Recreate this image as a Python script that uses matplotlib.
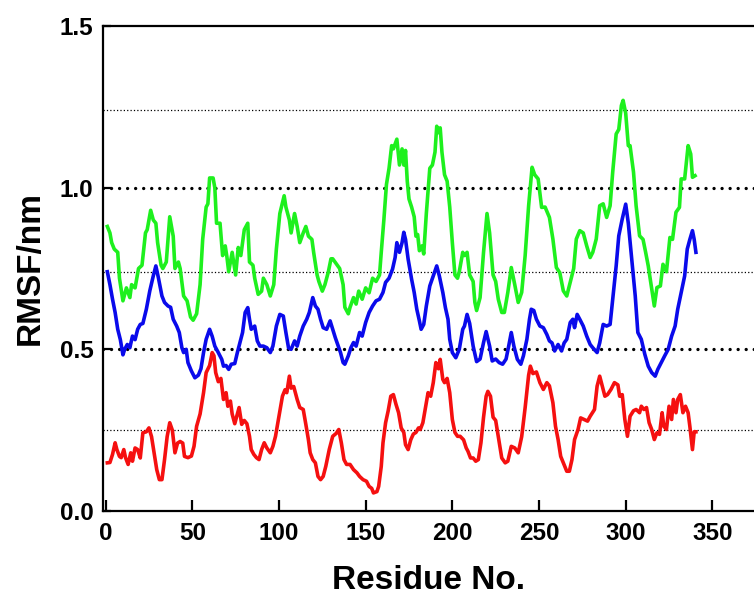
import matplotlib
matplotlib.use("Agg")
import matplotlib.pyplot as plt

# valores (resíduo, RMSF em nm)
res_verde = [1, 2.5, 3.5, 5, 7, 8, 10, 12, 14, 15, 17, 19, 21, 23, 24, 26, 27.5, 29, 30, 32,
             33, 35, 37, 39, 40, 42, 43, 45, 47, 49, 50.5, 52.5, 54.5, 56, 58, 59, 60, 62, 63, 64,
             66, 67.5, 69, 70, 71, 73, 75, 76.5, 78, 80, 82, 83, 85, 86, 88, 90, 91, 93, 95, 97,
             98.5, 100.5, 103, 104, 106, 107, 109, 110.5, 112, 114, 115.5, 117, 119, 120, 122, 123, 125, 126.5, 128.5, 130,
             131, 133, 135, 137, 138, 140, 141, 143, 144.5, 146, 148, 150, 152, 154, 156, 158, 159, 160.5, 162, 163.5,
             165, 166, 168, 169.5, 171, 172, 173, 174, 175, 176.5, 178, 179, 180, 181, 182.5, 183.5, 185, 187, 188.5, 190,
             191, 192, 193, 194, 195.5, 197, 198.5, 200, 201.5, 203, 204, 206, 207, 208.5, 210, 212, 213, 214, 216, 218,
             220, 221.5, 223.5, 225, 226.5, 228.5, 230, 232, 234, 236, 238, 240, 242, 244, 246, 247.5, 249.5, 251.5, 253.5, 256,
             258, 260, 262, 264, 266, 268, 270, 271.5, 273.5, 275.5, 277.5, 279.5, 281, 283, 285, 287, 289, 291, 292.5, 294.5,
             296, 297.5, 298.5, 300, 301.5, 302.5, 304.5, 306, 308, 310, 311.5, 313, 315, 316.5, 318, 320, 321.5, 323.5, 325.5, 327,
             329, 331, 332, 334, 336, 337.5, 338.5, 340]
rmsf_verde = [0.88, 0.86, 0.83, 0.81, 0.80, 0.72, 0.65, 0.69, 0.66, 0.70, 0.69, 0.75, 0.76, 0.86, 0.87, 0.93, 0.90, 0.89, 0.83, 0.76,
              0.75, 0.77, 0.91, 0.85, 0.75, 0.77, 0.75, 0.665, 0.65, 0.60, 0.59, 0.61, 0.70, 0.84, 0.94, 0.95, 1.03, 1.03, 1.00, 0.89,
              0.89, 0.79, 0.82, 0.785, 0.74, 0.80, 0.73, 0.815, 0.79, 0.87, 0.89, 0.77, 0.76, 0.72, 0.67, 0.68, 0.72, 0.70, 0.665, 0.70,
              0.81, 0.92, 0.975, 0.94, 0.90, 0.86, 0.92, 0.88, 0.83, 0.86, 0.88, 0.85, 0.84, 0.80, 0.73, 0.71, 0.68, 0.70, 0.74, 0.78,
              0.78, 0.765, 0.75, 0.70, 0.63, 0.61, 0.63, 0.66, 0.64, 0.68, 0.655, 0.69, 0.675, 0.72, 0.71, 0.73, 0.80, 0.90, 1.01, 1.06,
              1.13, 1.12, 1.15, 1.07, 1.12, 1.07, 1.115, 1.02, 0.965, 0.94, 0.91, 0.85, 0.855, 0.805, 0.82, 0.795, 0.92, 1.06, 1.07, 1.11,
              1.19, 1.17, 1.185, 1.11, 1.04, 1.02, 0.94, 0.83, 0.73, 0.72, 0.74, 0.80, 0.79, 0.80, 0.73, 0.71, 0.645, 0.62, 0.66, 0.80,
              0.92, 0.86, 0.73, 0.71, 0.655, 0.614, 0.614, 0.676, 0.753, 0.70, 0.645, 0.676, 0.79, 0.944, 1.063, 1.04, 1.027, 0.939, 0.94, 0.908,
              0.841, 0.753, 0.737, 0.681, 0.665, 0.707, 0.75, 0.841, 0.867, 0.86, 0.82, 0.784, 0.80, 0.841, 0.944, 0.95, 0.908, 0.944, 1.048, 1.166,
              1.18, 1.254, 1.27, 1.23, 1.13, 1.13, 1.048, 0.944, 0.851, 0.84, 0.80, 0.758, 0.686, 0.634, 0.691, 0.696, 0.763, 0.74, 0.846, 0.84,
              0.924, 0.939, 1.027, 1.027, 1.13, 1.104, 1.032, 1.037]

res_azul = [1, 2.5, 4, 5.5, 7, 8.5, 10, 11, 12.5, 14, 15.5, 17, 18.5, 20, 21.5, 23.5, 25.5, 27.5, 29, 30.5,
            32.5, 34, 36, 37.5, 39, 41, 42.5, 44, 45, 46.5, 47.5, 49.5, 51.5, 53.5, 55, 56.5, 58, 60, 61.5, 63,
            65, 67, 68, 69.5, 71, 72.5, 74.5, 76, 77.5, 79, 80.5, 82, 83, 84, 86, 87.5, 89, 91, 93, 95,
            96.5, 98.5, 100.5, 102.5, 104, 105.5, 107, 109, 110.5, 112, 114, 116, 117.5, 119.5, 121, 122.5, 124, 125.5, 127.5, 129.5,
            131, 132.5, 134.5, 135.5, 137, 138, 140, 141.5, 143, 144.5, 146.5, 148, 150, 152, 154, 156, 158, 160, 161.5, 163.5,
            165.5, 167, 168, 169.5, 171, 172, 173, 174.5, 176.5, 178, 179.5, 181, 182, 183.5, 185, 187, 189, 191, 192.5, 194.5,
            196, 197.5, 198.5, 200, 202, 204, 206, 207, 208.5, 210, 212, 214, 216, 218, 219.5, 221.5, 223, 225, 227, 229,
            231, 232.5, 234, 235.5, 237.5, 239.5, 241, 243, 244.5, 245.5, 247, 248.5, 250.5, 252.5, 254.5, 256, 257.5, 259, 261, 263,
            264.5, 266, 268, 269.5, 270.5, 272, 273.5, 275.5, 277.5, 279.5, 281, 283.5, 285, 287, 289, 291, 292.5, 294.5, 296, 298,
            300, 301.5, 303.5, 305.5, 307, 309, 311, 313, 315, 317, 318.5, 320.5, 322.5, 324.5, 326.5, 328.5, 330, 332, 334, 335.5,
            337, 338.5, 339.5, 340.5]
rmsf_azul = [0.74, 0.70, 0.655, 0.614, 0.562, 0.53, 0.483, 0.50, 0.515, 0.505, 0.541, 0.53, 0.562, 0.577, 0.58, 0.624, 0.681, 0.727, 0.758, 0.72,
             0.665, 0.645, 0.634, 0.63, 0.593, 0.572, 0.552, 0.505, 0.49, 0.50, 0.459, 0.433, 0.412, 0.42, 0.44, 0.49, 0.531, 0.562, 0.54, 0.51,
             0.49, 0.469, 0.448, 0.45, 0.438, 0.454, 0.456, 0.49, 0.521, 0.552, 0.614, 0.629, 0.593, 0.562, 0.572, 0.526, 0.51, 0.51, 0.505, 0.49,
             0.51, 0.572, 0.608, 0.603, 0.552, 0.505, 0.50, 0.526, 0.51, 0.541, 0.572, 0.593, 0.614, 0.66, 0.634, 0.624, 0.593, 0.567, 0.562, 0.588,
             0.562, 0.536, 0.505, 0.49, 0.459, 0.454, 0.48, 0.505, 0.521, 0.51, 0.552, 0.541, 0.583, 0.614, 0.634, 0.65, 0.655, 0.676, 0.707, 0.72,
             0.748, 0.784, 0.83, 0.80, 0.83, 0.862, 0.84, 0.779, 0.717, 0.676, 0.624, 0.588, 0.562, 0.577, 0.634, 0.696, 0.727, 0.758, 0.727, 0.676,
             0.629, 0.593, 0.531, 0.49, 0.474, 0.50, 0.562, 0.572, 0.608, 0.58, 0.51, 0.462, 0.47, 0.521, 0.555, 0.51, 0.464, 0.47, 0.459, 0.454,
             0.47, 0.51, 0.552, 0.51, 0.469, 0.454, 0.48, 0.531, 0.593, 0.624, 0.62, 0.593, 0.572, 0.567, 0.546, 0.526, 0.52, 0.495, 0.515, 0.495,
             0.52, 0.531, 0.583, 0.593, 0.567, 0.608, 0.593, 0.572, 0.541, 0.515, 0.505, 0.49, 0.52, 0.577, 0.572, 0.577, 0.655, 0.758, 0.851, 0.903,
             0.949, 0.89, 0.779, 0.665, 0.552, 0.531, 0.485, 0.448, 0.428, 0.417, 0.438, 0.459, 0.48, 0.50, 0.541, 0.572, 0.624, 0.676, 0.727, 0.81,
             0.84, 0.867, 0.84, 0.80]

res_vermelho = [1, 2.5, 4, 5.5, 6.5, 8, 9, 10.5, 11.5, 13, 14.5, 15.5, 17, 18.5, 20, 21.5, 23.5, 25, 26.5, 28,
                29.5, 31, 32.5, 34, 35.5, 37, 38.5, 40, 41.5, 43, 44.5, 45.5, 47.5, 49.5, 51, 52.5, 54.5, 56.5, 58, 60,
                61.5, 62.5, 63.5, 65, 66.5, 68, 69.5, 70.5, 72, 73, 74.5, 76, 77, 78.5, 80, 81.5, 83, 84, 85.5, 87,
                88.5, 90, 91.5, 93, 95, 96.5, 98, 100, 102, 103.5, 104.5, 106, 107, 108.5, 110.5, 112, 114, 115.5, 117, 118,
                119.5, 121, 122.5, 124, 125.5, 127, 129, 131, 133, 134.5, 136, 137.5, 139, 141, 143, 145, 146.5, 148.5, 150.5, 152,
                153.5, 154.5, 156.5, 157.5, 159, 160, 161.5, 163, 164.5, 166, 167.5, 169, 170.5, 172, 173, 174.5, 176, 177.5, 179, 180.5,
                181.5, 183, 184.5, 186, 187.5, 189, 190.5, 192, 193, 194.5, 195.5, 197, 198.5, 200, 201.5, 203, 204.5, 206.5, 208, 209,
                210.5, 212, 213.5, 215, 216.5, 218, 219.5, 220.5, 222, 223.5, 225, 226.5, 228.5, 230.5, 232, 234, 236, 238, 240, 242,
                244, 245, 246.5, 248.5, 250.5, 252.5, 254.5, 256, 258, 259.5, 261, 262.5, 264, 266, 267.5, 269, 270.5, 272.5, 274, 276,
                278, 279.5, 282, 283.5, 285, 286.5, 288, 289.5, 291.5, 293.5, 295.5, 296.5, 298, 299.5, 301, 302.5, 304.5, 306, 308, 309,
                310.5, 312, 313.5, 315, 316.5, 318, 319.5, 321, 322, 323.5, 325, 326.5, 327.5, 329, 330, 331.5, 333, 334.5, 336, 337,
                338.5, 339.5, 340.5]
rmsf_vermelho = [0.149, 0.15, 0.175, 0.211, 0.19, 0.169, 0.165, 0.19, 0.165, 0.144, 0.18, 0.154, 0.195, 0.19, 0.164, 0.242, 0.245, 0.257, 0.23, 0.18,
                 0.128, 0.097, 0.097, 0.159, 0.23, 0.273, 0.25, 0.18, 0.21, 0.215, 0.21, 0.169, 0.165, 0.17, 0.20, 0.262, 0.30, 0.366, 0.428, 0.45,
                 0.49, 0.48, 0.428, 0.40, 0.41, 0.345, 0.366, 0.324, 0.34, 0.30, 0.27, 0.30, 0.32, 0.268, 0.28, 0.27, 0.231, 0.19, 0.175, 0.165,
                 0.159, 0.19, 0.211, 0.195, 0.18, 0.20, 0.231, 0.293, 0.355, 0.375, 0.366, 0.417, 0.38, 0.385, 0.345, 0.32, 0.314, 0.268, 0.22, 0.18,
                 0.159, 0.149, 0.107, 0.097, 0.107, 0.138, 0.19, 0.231, 0.24, 0.252, 0.21, 0.159, 0.144, 0.144, 0.128, 0.118, 0.107, 0.097, 0.092, 0.076,
                 0.07, 0.056, 0.06, 0.076, 0.138, 0.211, 0.273, 0.31, 0.355, 0.36, 0.33, 0.304, 0.257, 0.243, 0.205, 0.19, 0.22, 0.238, 0.243, 0.257,
                 0.252, 0.273, 0.319, 0.366, 0.355, 0.397, 0.459, 0.44, 0.469, 0.407, 0.397, 0.41, 0.366, 0.283, 0.243, 0.231, 0.231, 0.22, 0.195, 0.185,
                 0.164, 0.164, 0.154, 0.159, 0.211, 0.29, 0.355, 0.37, 0.355, 0.29, 0.28, 0.23, 0.164, 0.149, 0.154, 0.20, 0.195, 0.18, 0.23, 0.32,
                 0.42, 0.448, 0.425, 0.43, 0.397, 0.376, 0.397, 0.387, 0.335, 0.262, 0.221, 0.169, 0.149, 0.123, 0.123, 0.159, 0.221, 0.252, 0.288, 0.283,
                 0.278, 0.293, 0.314, 0.386, 0.417, 0.386, 0.355, 0.36, 0.376, 0.397, 0.39, 0.355, 0.36, 0.283, 0.231, 0.293, 0.31, 0.314, 0.304, 0.324,
                 0.314, 0.32, 0.273, 0.252, 0.221, 0.242, 0.237, 0.304, 0.262, 0.252, 0.324, 0.283, 0.345, 0.304, 0.345, 0.36, 0.304, 0.324, 0.304, 0.262,
                 0.19, 0.245, 0.245]

xticks = [0, 50, 100, 150, 200, 250, 300, 350]
yticks = [0.0, 0.5, 1.0, 1.5]
linhas_maiores = [0.5, 1.0]
linhas_menores = [0.25, 0.74, 1.24]

plt.rcParams['font.family'] = ['Liberation Sans', 'DejaVu Sans']
plt.rcParams['font.weight'] = 'bold'

fig = plt.figure(figsize=(7.54, 5.96), dpi=100)
ax = fig.add_axes([0.1366, 0.1426, 0.8634, 0.8138])

# linhas de referência pontilhadas
for y in linhas_menores:
    ax.axhline(y, color='black', lw=0.9, ls=(0, (1, 1.7)), zorder=1)
for y in linhas_maiores:
    ax.axhline(y, color='black', lw=2.4, ls=(0, (0.01, 2.4)), dash_capstyle='round', zorder=1)

ax.plot(res_verde, rmsf_verde, color='#1ef01e', lw=2.6, zorder=3)
ax.plot(res_azul, rmsf_azul, color='#0a0aeb', lw=2.6, zorder=3)
ax.plot(res_vermelho, rmsf_vermelho, color='#f51010', lw=2.6, zorder=3)

ax.set_xlim(-1.5, 374)
ax.set_ylim(0, 1.5)
ax.set_xticks(xticks)
ax.set_yticks(yticks)
ax.set_yticklabels(['0.0', '0.5', '1.0', '1.5'])

ax.spines['right'].set_visible(False)
for lado in ['left', 'bottom', 'top']:
    ax.spines[lado].set_linewidth(1.6)

ax.tick_params(axis='x', direction='in', length=8, width=1.6, labelsize=17.5, pad=8)
ax.tick_params(axis='y', direction='in', length=6, width=1.6, labelsize=17.5, pad=7)

ax.set_xlabel('Residue No.', fontsize=24, fontweight='bold')
ax.set_ylabel('RMSF/nm', fontsize=24, fontweight='bold')
ax.xaxis.set_label_coords(0.5, -0.111)
ax.yaxis.set_label_coords(-0.088, 0.5)

plt.savefig('out.png', dpi=100)
